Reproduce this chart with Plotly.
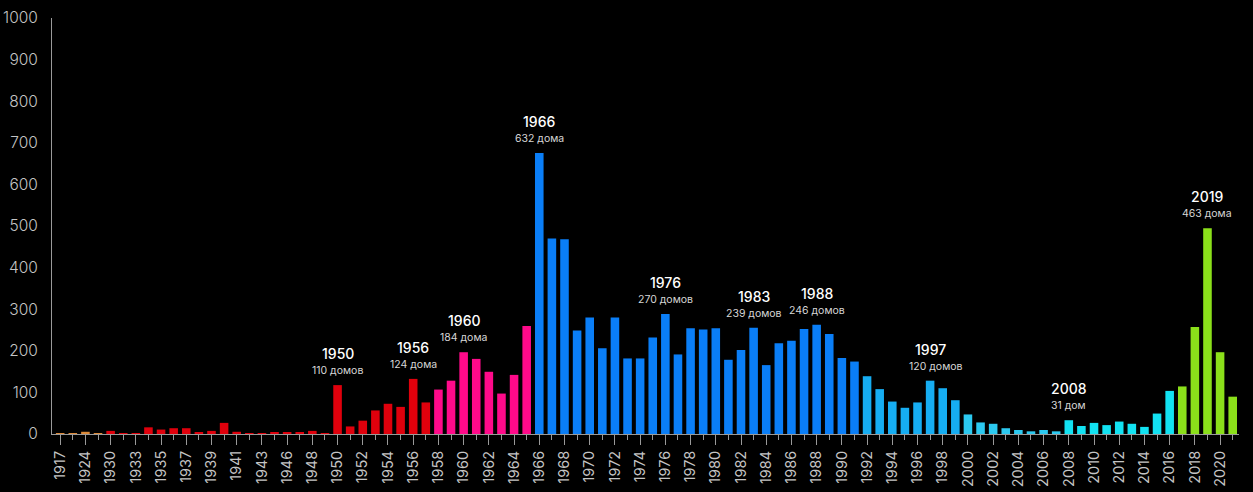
import plotly.graph_objects as go

# Houses built per year
years = [
    "1917", "1922", "1924", "1927", "1930", "1932", "1933", "1934", "1935", "1936",
    "1937", "1938", "1939", "1940", "1941", "1942", "1943", "1945", "1946", "1947",
    "1948", "1949", "1950", "1951", "1952", "1953", "1954", "1955", "1956", "1957",
    "1958", "1959", "1960", "1961", "1962", "1963", "1964", "1965", "1966", "1967",
    "1968", "1969", "1970", "1971", "1972", "1973", "1974", "1975", "1976", "1977",
    "1978", "1979", "1980", "1981", "1982", "1983", "1984", "1985", "1986", "1987",
    "1988", "1989", "1990", "1991", "1992", "1993", "1994", "1995", "1996", "1997",
    "1998", "1999", "2000", "2001", "2002", "2003", "2004", "2005", "2006", "2007",
    "2008", "2009", "2010", "2011", "2012", "2013", "2014", "2015", "2016", "2017",
    "2018", "2019", "2020", "2021",
]
houses = [
    2, 2, 5, 2, 7, 1, 1, 15, 10, 13,
    13, 4, 7, 25, 5, 2, 1, 4, 4, 4,
    7, 1, 110, 17, 30, 53, 68, 61, 124, 71,
    100, 120, 184, 169, 140, 91, 133, 243, 632, 440,
    438, 233, 262, 193, 262, 170, 170, 217, 270, 179,
    238, 235, 238, 167, 189, 239, 155, 204, 210, 236,
    246, 225, 171, 163, 130, 101, 73, 59, 71, 120,
    103, 76, 44, 26, 23, 13, 9, 6, 9, 6,
    31, 18, 25, 20, 28, 23, 16, 46, 97, 107,
    241, 463, 184, 84,
]

# Highlighted years and their captions
note_years = ["1950", "1956", "1960", "1966", "1976", "1983", "1988", "1997", "2008", "2019"]
note_texts = ["110 домов", "124 дома", "184 дома", "632 дома", "270 домов",
              "239 домов", "246 домов", "120 домов", "31 дом", "463 дома"]

# Scale shown on the left
axis_ticks = [0, 100, 200, 300, 400, 500, 600, 700, 800, 900, 1000]

assert len(years) == len(houses)


def era_color(year):
    y = int(year)
    if y < 1930:
        return "#dc8a3a"
    if y < 1958:
        return "#e0000c"
    if y < 1966:
        return "#ff0a8a"
    if y < 1992:
        return "#0a7ef7"
    if y < 2000:
        return "#16adf2"
    if y < 2008:
        return "#2cc9f0"
    if y < 2017:
        return "#12e2f2"
    return "#8be01a"


pos = list(range(len(years)))
colors = [era_color(y) for y in years]

GREY = "#9a9a9a"
LABEL = "#c4c4c4"
FONT = "Inter, Noto Sans, sans-serif"

fig = go.Figure()
fig.add_trace(go.Bar(
    x=pos, y=houses, marker=dict(color=colors, line=dict(width=0)),
    hoverinfo="x+y", showlegend=False,
))
# carrier for the left-hand scale
fig.add_trace(go.Scatter(x=[], y=[], yaxis="y2", showlegend=False))

# small horizontal nudge for one caption
caption_shift = {"1997": 6}
for yr, txt in zip(note_years, note_texts):
    i = years.index(yr)
    v = houses[i]
    fig.add_annotation(x=i, y=v, xref="x", yref="y", text=txt, showarrow=False,
                       yanchor="bottom", yshift=6, xshift=caption_shift.get(yr, 0),
                       font=dict(family=FONT, size=10.5, color="#d6d6d6"))
    fig.add_annotation(x=i, y=v, xref="x", yref="y", text=yr, showarrow=False,
                       yanchor="bottom", yshift=21,
                       font=dict(family=FONT, size=14, color="#ffffff", weight=500))

fig.update_layout(
    width=1253, height=492,
    margin=dict(l=52, r=14, t=18, b=57.5, autoexpand=False),
    paper_bgcolor="#000000", plot_bgcolor="#000000",
    bargap=0.32,
    font=dict(family=FONT, color=LABEL),
    xaxis=dict(
        range=[-0.65, len(years) - 0.5],
        tickmode="array", tickvals=pos[::2], ticktext=years[::2],
        tickangle=-90, ticks="outside", ticklen=10, tickcolor=GREY, tickwidth=1,
        minor=dict(ticks="outside", ticklen=5, tickcolor=GREY, dtick=1, tick0=0,
                   showgrid=False),
        showline=True, linecolor=GREY, linewidth=1,
        showgrid=False, zeroline=False, automargin=False,
        tickfont=dict(family=FONT, size=14.5, color=LABEL),
    ),
    yaxis=dict(range=[0, 936], visible=False, showgrid=False, zeroline=False),
    yaxis2=dict(
        overlaying="y", side="left", range=[0, 1000],
        tickmode="array", tickvals=axis_ticks,
        showline=True, linecolor=GREY, linewidth=1,
        ticks="", showgrid=False, zeroline=False, automargin=False,
        ticklabelstandoff=10,
        tickfont=dict(family=FONT, size=15.5, color=LABEL, weight=300),
    ),
)

fig.write_html("out.html")
